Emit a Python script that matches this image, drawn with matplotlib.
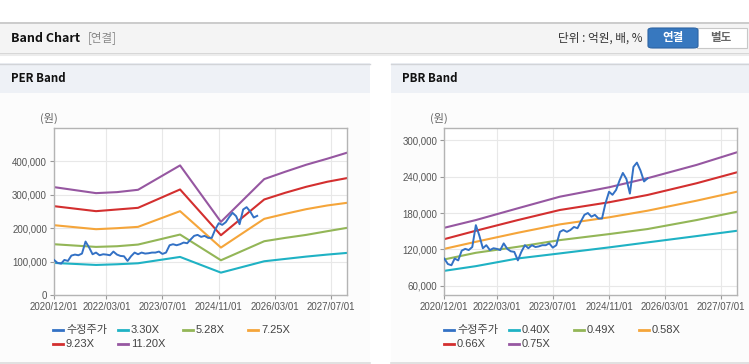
import matplotlib
matplotlib.use("Agg")
import matplotlib.pyplot as plt
import pandas as pd
from matplotlib.lines import Line2D
from matplotlib.patches import Rectangle, FancyBboxPatch

plt.rcParams["font.family"] = ["Liberation Sans", "Noto Sans CJK KR"]

W, H = 749, 364

# ---- data ----
price_dates = pd.date_range("2020-12-01", periods=59, freq="MS")
price = [105, 96, 94, 105, 102, 118, 121, 119, 124, 160,
         143, 122, 127, 119, 122, 121, 119, 130, 121, 117,
         116, 102, 116, 127, 122, 127, 124, 125, 127, 127,
         130, 123, 127, 149, 152, 149, 152, 157, 155, 166,
         177, 180, 174, 177, 171, 171, 196, 215, 210, 218,
         234, 246, 236, 212, 256, 263, 250, 232, 237]
price = [v * 1000 for v in price]

per_dates = pd.to_datetime(["2020-12-01", "2021-12-01", "2022-06-01", "2022-12-01",
                            "2023-12-01", "2024-11-20", "2025-12-01", "2026-06-01",
                            "2026-12-01", "2027-06-01", "2027-11-20"])
per_330 = [96, 90, 92, 95, 114, 67, 101, 108, 115, 121, 126]
per_528 = [152, 144, 146, 151, 181, 104, 161, 171, 180, 191, 201]
per_725 = [209, 197, 200, 204, 251, 142, 228, 243, 257, 268, 276]
per_923 = [266, 251, 256, 261, 316, 179, 286, 306, 324, 339, 350]
per_1120 = [323, 305, 308, 315, 388, 219, 347, 369, 390, 408, 426]

pbr_dates = pd.to_datetime(["2020-12-01", "2021-09-01", "2022-09-01", "2023-09-01",
                            "2024-11-01", "2025-10-01", "2026-12-01", "2027-11-20"])
pbr_040 = [84.8, 92.5, 105.2, 113.5, 123.4, 131.6, 142.0, 150.8]
pbr_049 = [103.6, 114.5, 124.4, 135.4, 145.3, 153.6, 168.4, 182.2]
pbr_058 = [121.0, 132.6, 147.5, 161.3, 172.9, 183.8, 200.3, 215.2]
pbr_066 = [137.0, 150.8, 168.4, 185.0, 197.7, 209.7, 229.0, 247.2]
pbr_075 = [155.7, 168.4, 187.8, 206.9, 222.4, 237.3, 259.2, 280.2]

xtick_labels = ["2020/12/01", "2022/03/01", "2023/07/01",
                "2024/11/01", "2026/03/01", "2027/07/01"]
per_yticks = [0, 100000, 200000, 300000, 400000]
pbr_yticks = [60000, 120000, 180000, 240000, 300000]

PRICE_LABEL = "수정주가"
BAND_COLORS = ["#1fb2c4", "#93b657", "#f5a53a", "#d32f2f", "#9657a1"]
PRICE_COLOR = "#3371c5"


def fx(x):
    return x / W


def fy(y):
    return 1 - y / H


def box(fig, x0, y0, x1, y1, color, z=0):
    fig.add_artist(Rectangle((fx(x0), fy(y1)), (x1 - x0) / W, (y1 - y0) / H,
                             transform=fig.transFigure, facecolor=color,
                             edgecolor="none", zorder=z))


def hline(fig, x0, x1, y, color, lw=1.0):
    fig.add_artist(Line2D([fx(x0), fx(x1)], [fy(y), fy(y)], transform=fig.transFigure,
                          color=color, lw=lw))


def band_panel(fig, x0, x1, title, ax_left, dates, bands, labels, yticks, ylim, unit_x):
    # panel chrome
    box(fig, x0, 63, x1, 93, "#eef1f6")
    hline(fig, x0, x1, 63.5, "#d2d4d8")
    box(fig, x0, 93, x1, 362, "#fcfcfc")
    hline(fig, x0, x1, 362.5, "#dcdcdc", lw=1.2)
    fig.text(fx(x0 + 11), fy(79), title, fontsize=8.3, fontweight="bold",
             family=["Noto Sans CJK KR"], va="center", color="#111")
    fig.text(fx(unit_x), fy(118), "(원)", fontsize=8, va="center", ha="center",
             color="#666", family=["Noto Sans CJK KR"])

    ax = fig.add_axes([fx(ax_left), fy(295), 293 / W, 167 / H])
    ax.set_facecolor("white")
    for vals, color in zip(bands, BAND_COLORS):
        ax.plot(dates, [v * 1000 for v in vals], color=color, lw=1.5, zorder=2)
    ax.plot(price_dates, price, color=PRICE_COLOR, lw=1.4, zorder=3)

    ax.set_xlim(pd.Timestamp("2020-12-01"), pd.Timestamp("2027-11-20"))
    ax.set_ylim(*ylim)
    ax.set_xticks(pd.to_datetime(xtick_labels))
    ax.set_xticklabels(xtick_labels)
    ax.set_yticks(yticks)
    ax.set_yticklabels([f"{v:,}" for v in yticks])
    ax.tick_params(labelsize=7, colors="#999", labelcolor="#555", length=3, width=0.8, pad=2)
    ax.grid(color="#e8e8e8", lw=0.8)
    ax.set_axisbelow(True)
    for s in ax.spines.values():
        s.set_color("#b4b4b4")
        s.set_linewidth(1.0)

    # legend, laid out in a 4-column grid like the source widget
    names = [PRICE_LABEL] + labels
    colors = [PRICE_COLOR] + BAND_COLORS
    for i, (name, color) in enumerate(zip(names, colors)):
        lx = x0 + 53 + (i % 4) * 65
        ly = 330 + (i // 4) * 14
        fig.add_artist(Line2D([fx(lx), fx(lx + 10)], [fy(ly), fy(ly)],
                              transform=fig.transFigure, color=color, lw=2))
        fig.text(fx(lx + 13), fy(ly), name, fontsize=8, va="center", color="#444",
                 family=["Liberation Sans", "Noto Sans CJK KR"])
    return ax


fig = plt.figure(figsize=(W / 100, H / 100), dpi=100)
fig.patch.set_facecolor("white")

# top header bar
box(fig, 0, 22, W, 53, "#f4f4f4")
hline(fig, 0, W, 22.5, "#c4c4c4", lw=1.2)
hline(fig, 0, W, 53.5, "#cfcfcf", lw=1.2)
hline(fig, 0, W, 55, "#ececec", lw=1.5)
fig.text(fx(11), fy(38), "Band Chart", fontsize=9, fontweight="bold",
         family=["Noto Sans CJK KR"], va="center", color="#111")
fig.text(fx(88), fy(38), "[연결]", fontsize=8.3, va="center", color="#888",
         family=["Noto Sans CJK KR"])
fig.text(fx(642), fy(38), "단위 : 억원, 배, %", fontsize=8.4, va="center", ha="right",
         color="#333", family=["Noto Sans CJK KR"])
fig.add_artist(FancyBboxPatch((fx(697), fy(48)), 50 / W, 20 / H, boxstyle="square,pad=0",
                              transform=fig.transFigure, facecolor="white",
                              edgecolor="#c8c8c8", lw=0.8))
fig.add_artist(FancyBboxPatch((fx(648), fy(48)), 50 / W, 20 / H,
                              boxstyle="round,pad=0,rounding_size=0.006",
                              transform=fig.transFigure, facecolor="#3778bf",
                              edgecolor="#2d64a3", lw=0.8))
fig.text(fx(673), fy(38), "연결", fontsize=8.3, fontweight="bold", color="white",
         ha="center", va="center", family=["Noto Sans CJK KR"])
fig.text(fx(721), fy(38), "별도", fontsize=8.3, fontweight="bold", color="#666",
         ha="center", va="center", family=["Noto Sans CJK KR"])

band_panel(fig, 0, 370, "PER Band", 54,
           per_dates, [per_330, per_528, per_725, per_923, per_1120],
           ["3.30X", "5.28X", "7.25X", "9.23X", "11.20X"],
           per_yticks, (0, 500000), 49)
band_panel(fig, 391, 749, "PBR Band", 444.3,
           pbr_dates, [pbr_040, pbr_049, pbr_058, pbr_066, pbr_075],
           ["0.40X", "0.49X", "0.58X", "0.66X", "0.75X"],
           pbr_yticks, (45000, 320000), 439)

fig.savefig("out.png", dpi=100)
